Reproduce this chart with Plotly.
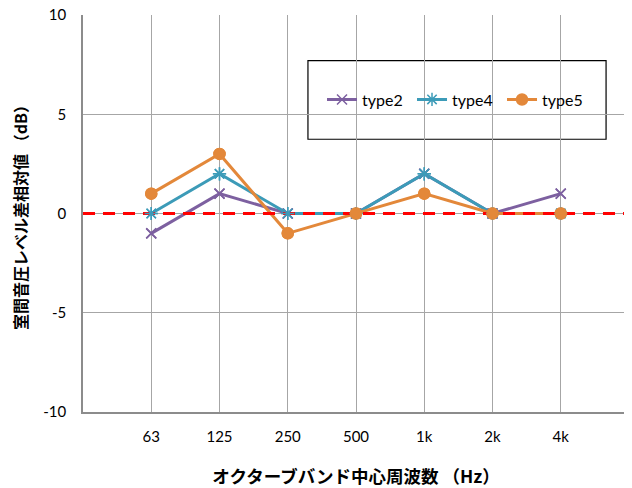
import plotly.graph_objects as go

categories = ["63", "125", "250", "500", "1k", "2k", "4k"]
type2 = [-1, 1, 0, 0, 2, 0, 1]
type4 = [0, 2, 0, 0, 2, 0, 0]
type5 = [1, 3, -1, 0, 1, 0, 0]
y_ticks = [-10, -5, 0, 5, 10]
y_tick_text = ["-10", "-5", "0", "5", "10"]

xs = list(range(len(categories)))
series = [
    ("type2", type2, "#7D60A0", "x-thin-open", 10),
    ("type4", type4, "#3C9BB8", "asterisk-open", 11),
    ("type5", type5, "#E3883A", "circle", 11),
]

fig = go.Figure()
for name, vals, col, sym, sz in series:
    fig.add_trace(go.Scatter(
        x=xs, y=vals, name=name, mode="lines+markers",
        line=dict(color=col, width=3),
        marker=dict(symbol=sym, size=sz, color=col, line=dict(color=col, width=1.5)),
    ))

# red zero reference line (drawn above lines, below markers)
fig.add_trace(go.Scatter(
    x=[-1, len(categories)], y=[0, 0], mode="lines", showlegend=False,
    line=dict(color="#FF0000", width=3, dash="12px,8px"), hoverinfo="skip",
))
for name, vals, col, sym, sz in series:
    fig.add_trace(go.Scatter(
        x=xs, y=vals, mode="markers", showlegend=False, hoverinfo="skip",
        marker=dict(symbol=sym, size=sz, color=col, line=dict(color=col, width=1.5)),
    ))

fig.add_shape(type="rect", xref="paper", yref="paper",
              x0=0.412, x1=0.958, y0=0.687, y1=0.885,
              line=dict(color="black", width=1.2), fillcolor="white", layer="below")

fig.update_layout(
    width=624, height=480,
    margin=dict(l=75, r=3, t=7, b=76, autoexpand=False),
    paper_bgcolor="white", plot_bgcolor="rgba(0,0,0,0)",
    font=dict(family="Lato, 'Noto Sans CJK JP', sans-serif", size=15, color="black"),
    showlegend=True,
    legend=dict(orientation="h", x=0.685, y=0.787, xanchor="center", yanchor="middle",
                bgcolor="rgba(0,0,0,0)", borderwidth=0, itemwidth=30,
                entrywidth=45, font=dict(size=16)),
    xaxis=dict(
        range=[-1, len(categories)],
        tickvals=list(range(-1, len(categories) + 1)),
        ticktext=[""] + categories + [""],
        showgrid=True, gridcolor="#A6A6A6", gridwidth=1,
        showline=True, linecolor="#8C8C8C", linewidth=1.5,
        zeroline=False, ticks="", ticklabelstandoff=10,
        title=dict(text="<b>オクターブバンド中心周波数 （Hz）</b>",
                   font=dict(family="'Noto Sans CJK JP'", size=17.5), standoff=28),
    ),
    yaxis=dict(
        range=[-10, 10], tickvals=y_ticks, ticktext=y_tick_text,
        showgrid=True, gridcolor="#A6A6A6", gridwidth=1,
        showline=True, linecolor="#8C8C8C", linewidth=1.5,
        zeroline=False, ticks="", ticklabelstandoff=12,
        ticklabeloverflow="allow",
        title=dict(text="<b>室間音圧レベル差相対値 （dB）</b>",
                   font=dict(family="'Noto Sans CJK JP'", size=16), standoff=12),
    ),
)

fig.write_html("out.html")
